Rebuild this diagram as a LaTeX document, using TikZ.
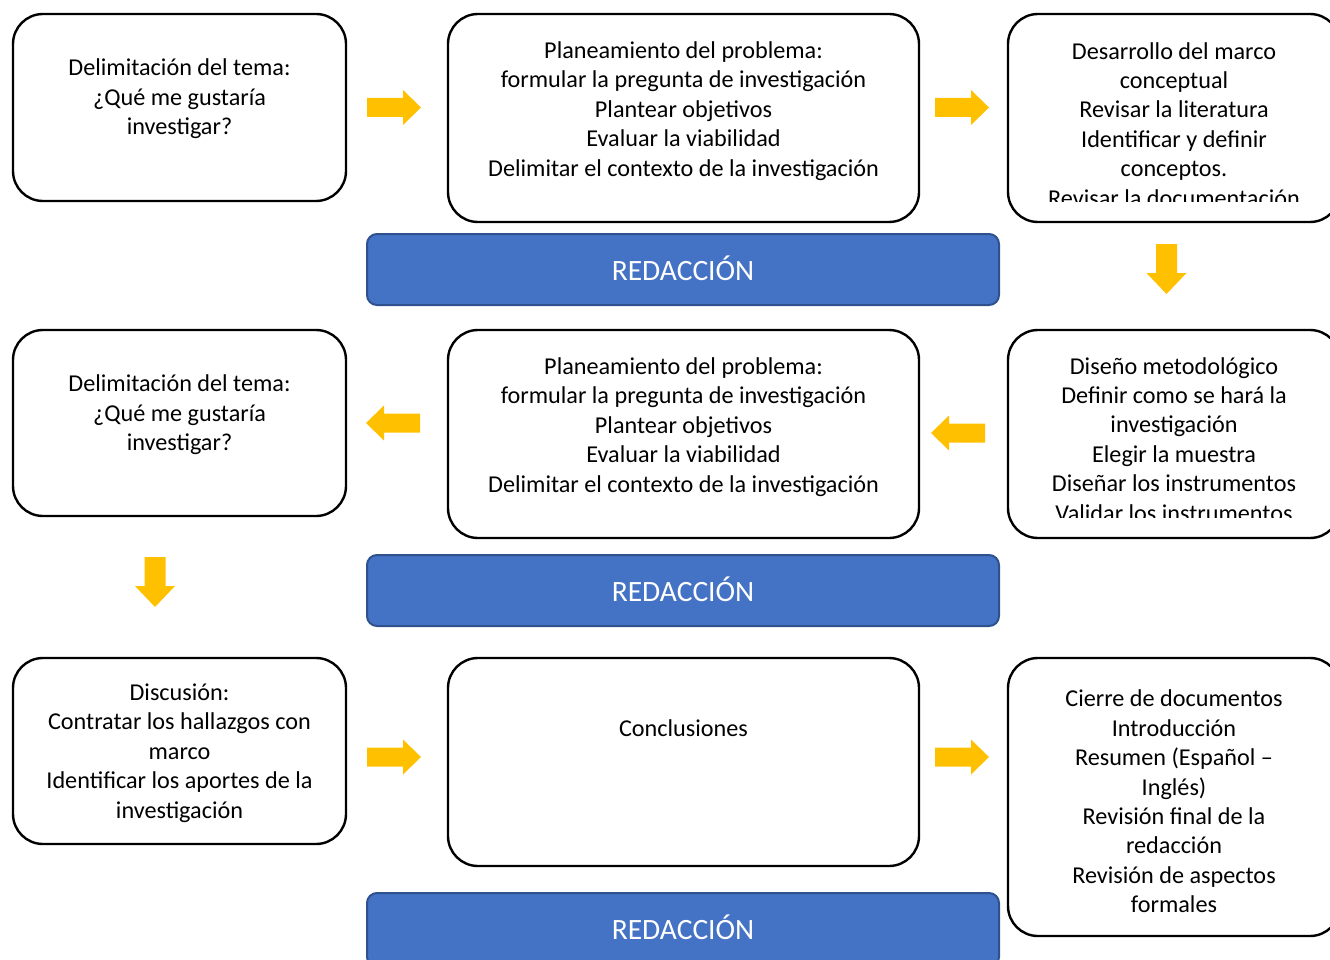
\documentclass[tikz,border=0pt]{standalone}
\usepackage{fontspec}
\setmainfont{Carlito}
\definecolor{arrowor}{HTML}{FFC000}
\definecolor{barfill}{HTML}{4472C4}
\definecolor{barline}{HTML}{2F528F}
\tikzset{
  stepbox/.style={draw=black, line width=2.4pt, rounded corners=30pt, inner sep=0pt},
  bartext/.style={text=white, font=\fontsize{29.5}{32}\selectfont},
  redbar/.style={draw=barline, line width=2pt, fill=barfill, rounded corners=10pt, inner sep=0pt},
  boxtext/.style={align=center, font=\fontsize{24.2}{29.4}\selectfont, inner sep=0pt},
  blockarrow/.style={fill=arrowor, draw=none},
  pics/rarrow/.style={code={\fill[blockarrow] (0,-9.5) -- (36,-9.5) -- (36,-17.5) -- (54,0) -- (36,17.5) -- (36,9.5) -- (0,9.5) -- cycle;}},
  pics/larrow/.style={code={\fill[blockarrow] (0,-9.5) -- (-36,-9.5) -- (-36,-17.5) -- (-54,0) -- (-36,17.5) -- (-36,9.5) -- (0,9.5) -- cycle;}},
  pics/darrow/.style={code={\fill[blockarrow] (-10.5,0) -- (-10.5,29) -- (-20,29) -- (0,50) -- (20,29) -- (10.5,29) -- (10.5,0) -- cycle;}},
}
\begin{document}
\begin{tikzpicture}[x=1pt,y=-1pt]
\useasboundingbox (0,0) rectangle (1330,960);
\clip (0,0) rectangle (1330,960);
% Row 1
\node[stepbox, minimum width=333pt, minimum height=187pt] (a1) at (179.5,107.5) {};
\node[boxtext] (ta1) at (179.5,99) {Delimitación del tema:\\¿Qué me gustaría\\investigar?};
\node[stepbox, minimum width=471pt, minimum height=208pt] (a2) at (683.5,118) {};
\node[boxtext] (ta2) at (683.5,111) {Planeamiento del problema:\\formular la pregunta de investigación\\Plantear objetivos\\Evaluar la viabilidad\\Delimitar el contexto de la investigación};
\node[stepbox, minimum width=332pt, minimum height=208pt] (a3) at (1174,118) {};
\begin{scope}
\clip (1008,14) rectangle (1340,202);
\node[boxtext, anchor=north] (ta3) at (1174,42) {Desarrollo del marco\\conceptual\\Revisar la literatura\\Identificar y definir\\conceptos.\\Revisar la documentación};
\end{scope}
\node[redbar, minimum width=632pt, minimum height=71pt] (r1) at (683,269.5) {};
\node[bartext] (tr1) at (683,268) {REDACCIÓN};
\pic at (367,107.5) {rarrow};
\pic at (935,107.5) {rarrow};
\pic at (1166.5,244) {darrow};
% Row 2
\node[stepbox, minimum width=333pt, minimum height=186pt] (b1) at (179.5,423) {};
\node[boxtext] (tb1) at (179.5,415) {Delimitación del tema:\\¿Qué me gustaría\\investigar?};
\node[stepbox, minimum width=471pt, minimum height=208pt] (b2) at (683.5,434) {};
\node[boxtext] (tb2) at (683.5,427) {Planeamiento del problema:\\formular la pregunta de investigación\\Plantear objetivos\\Evaluar la viabilidad\\Delimitar el contexto de la investigación};
\node[stepbox, minimum width=332pt, minimum height=208pt] (b3) at (1174,434) {};
\begin{scope}
\clip (1008,330) rectangle (1340,517);
\node[boxtext, anchor=north] (tb3) at (1174,357) {Diseño metodológico\\Definir como se hará la\\investigación\\Elegir la muestra\\Diseñar los instrumentos\\Validar los instrumentos};
\end{scope}
\node[redbar, minimum width=632pt, minimum height=71pt] (r2) at (683,590.5) {};
\node[bartext] (tr2) at (683,589) {REDACCIÓN};
\pic at (420,423) {larrow};
\pic at (985,433) {larrow};
\pic at (155,557) {darrow};
% Row 3
\node[stepbox, minimum width=333pt, minimum height=186pt] (c1) at (179.5,751) {};
\node[boxtext] (tc1) at (179.5,753) {Discusión:\\Contratar los hallazgos con\\marco\\Identificar los aportes de la\\investigación};
\node[stepbox, minimum width=471pt, minimum height=208pt] (c2) at (683.5,762) {};
\node[boxtext] (tc2) at (683.5,728) {Conclusiones};
\node[stepbox, minimum width=332pt, minimum height=278pt] (c3) at (1174,797) {};
\node[boxtext] (tc3) at (1174,801.5) {Cierre de documentos\\Introducción\\Resumen (Español –\\Inglés)\\Revisión final de la\\redacción\\Revisión de aspectos\\formales};
\node[redbar, minimum width=632pt, minimum height=74pt] (r3) at (683,930) {};
\node[bartext] (tr3) at (683,927) {REDACCIÓN};
\pic at (367,757) {rarrow};
\pic at (935,757) {rarrow};
\end{tikzpicture}
\end{document}
